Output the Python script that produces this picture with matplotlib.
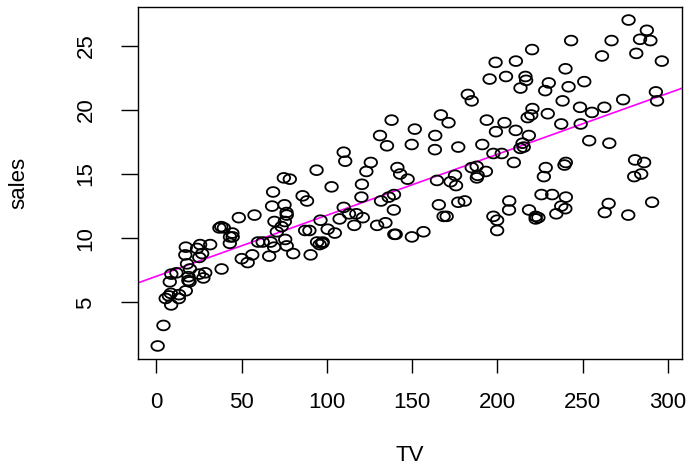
import numpy as np
import matplotlib
matplotlib.use("Agg")
import matplotlib.pyplot as plt
from matplotlib.path import Path

# Advertising data: TV budget vs sales
tv = [230.1, 44.5, 17.2, 151.5, 180.8, 8.7, 57.5, 120.2, 8.6, 199.8,
      66.1, 214.7, 23.8, 97.5, 204.1, 195.4, 67.8, 281.4, 69.2, 147.3,
      218.4, 237.4, 13.2, 228.3, 62.3, 262.9, 142.9, 240.1, 248.8, 70.6,
      292.9, 112.9, 97.2, 265.6, 95.7, 290.7, 266.9, 74.7, 43.1, 228.0,
      202.5, 177.0, 293.6, 206.9, 25.1, 175.1, 89.7, 239.9, 227.2, 66.9,
      199.8, 100.4, 216.4, 182.6, 262.7, 198.9, 7.3, 136.2, 210.8, 210.7,
      53.5, 261.3, 239.3, 102.7, 131.1, 69.0, 31.5, 139.3, 237.4, 216.8,
      199.1, 109.8, 26.8, 129.4, 213.4, 16.9, 27.5, 120.5, 5.4, 116.0,
      76.4, 239.8, 75.3, 68.4, 213.5, 193.2, 76.3, 110.7, 88.3, 109.8,
      134.3, 28.6, 217.7, 250.9, 107.4, 163.3, 197.6, 184.9, 289.7, 135.2,
      222.4, 296.4, 280.2, 187.9, 238.2, 137.9, 25.0, 90.4, 13.1, 255.4,
      225.8, 241.7, 175.7, 209.6, 78.2, 75.1, 139.2, 76.4, 125.7, 19.4,
      141.3, 18.8, 224.0, 123.1, 229.5, 87.2, 7.8, 80.2, 220.3, 59.6,
      0.7, 265.2, 8.4, 219.8, 36.9, 48.3, 25.6, 273.7, 43.0, 184.9,
      73.4, 193.7, 220.5, 104.6, 96.2, 140.3, 240.1, 243.2, 38.0, 44.7,
      280.7, 121.0, 197.6, 171.3, 187.8, 4.1, 93.9, 149.8, 11.7, 131.7,
      172.5, 85.7, 188.4, 163.5, 117.2, 234.5, 17.9, 206.8, 215.4, 284.3,
      50.0, 164.5, 19.6, 168.4, 222.4, 276.9, 248.4, 170.2, 276.7, 165.6,
      156.6, 218.5, 56.2, 287.6, 253.8, 205.0, 139.5, 191.1, 286.0, 18.7,
      39.5, 75.5, 17.2, 166.8, 149.7, 38.2, 94.2, 177.0, 283.6, 232.1]

sales = [22.1, 10.4, 9.3, 18.5, 12.9, 7.2, 11.8, 13.2, 4.8, 10.6,
         8.6, 17.4, 9.2, 9.7, 19.0, 22.4, 12.5, 24.4, 11.3, 14.6,
         18.0, 12.5, 5.6, 15.5, 9.7, 12.0, 15.0, 15.9, 18.9, 10.5,
         21.4, 11.9, 9.6, 17.4, 9.5, 12.8, 25.4, 14.7, 10.1, 21.5,
         16.6, 17.1, 20.7, 12.9, 8.5, 14.9, 10.6, 23.2, 14.8, 9.7,
         11.4, 10.7, 22.6, 21.2, 20.2, 23.7, 5.5, 13.2, 23.8, 18.4,
         8.1, 24.2, 15.7, 14.0, 18.0, 9.3, 9.5, 13.4, 18.9, 22.3,
         18.3, 12.4, 8.8, 11.0, 17.0, 8.7, 6.9, 14.2, 5.3, 11.0,
         11.8, 12.3, 11.3, 13.6, 21.7, 15.2, 12.0, 16.0, 12.9, 16.7,
         11.2, 7.3, 19.4, 22.2, 11.5, 16.9, 11.7, 15.5, 25.4, 17.2,
         11.7, 23.8, 14.8, 14.7, 20.7, 19.2, 7.2, 8.7, 5.3, 19.8,
         13.4, 21.8, 14.1, 15.9, 14.6, 12.6, 12.2, 9.4, 15.9, 6.6,
         15.5, 7.0, 11.6, 15.2, 19.7, 10.6, 6.6, 8.8, 24.7, 9.7,
         1.6, 12.7, 5.7, 19.6, 10.8, 11.6, 9.5, 20.8, 9.6, 20.7,
         10.9, 19.2, 20.1, 10.4, 11.4, 10.3, 13.2, 25.4, 10.9, 10.1,
         16.1, 11.6, 16.6, 19.0, 15.6, 3.2, 15.3, 10.1, 7.3, 12.9,
         14.4, 13.3, 14.9, 18.0, 11.9, 11.9, 8.0, 12.2, 17.1, 15.0,
         8.4, 14.5, 7.6, 11.7, 11.5, 27.0, 20.2, 11.7, 11.8, 12.6,
         10.5, 12.2, 8.7, 26.2, 17.6, 22.6, 10.3, 17.3, 15.9, 6.7,
         10.8, 9.9, 5.9, 19.6, 17.3, 7.6, 9.7, 12.8, 25.5, 13.4]

if len(tv) != len(sales):
    raise ValueError(f"length mismatch: {len(tv)} vs {len(sales)}")

x_ticks = [0, 50, 100, 150, 200, 250, 300]
y_ticks = [5, 10, 15, 20, 25]

x = np.array(tv)
y = np.array(sales)
slope, intercept = np.polyfit(x, y, 1)

plt.rcParams["font.family"] = ["Liberation Sans", "DejaVu Sans"]

W, H = 693, 465
fig = plt.figure(figsize=(W / 100, H / 100), dpi=100)
ax = fig.add_axes([137.5 / W, (H - 359) / H, (682 - 137.5) / W, (359 - 7) / H])

# slightly flattened circle, like the stretched R output
t = np.linspace(0, 2 * np.pi, 60)
ellipse = Path(np.column_stack([np.cos(t), 0.78 * np.sin(t)]), closed=True)
ax.scatter(x, y, marker=ellipse, s=81, facecolors="none", edgecolors="black", linewidths=1.3, zorder=3)

# R-style 4% axis extension
dx = (x.max() - x.min()) * 0.04
dy = (y.max() - y.min()) * 0.04
ax.set_xlim(x.min() - dx, x.max() + dx)
ax.set_ylim(y.min() - dy, y.max() + dy)

xs = np.array(ax.get_xlim())
ax.plot(xs, intercept + slope * xs, color="magenta", linewidth=1.2, zorder=2)
ax.set_xlim(xs)

ax.set_xticks(x_ticks)
ax.set_yticks(y_ticks)
ax.set_yticklabels([str(v) for v in y_ticks], rotation=90, va="center")
ax.tick_params(axis="x", length=9.8, width=1.0, pad=14, labelsize=16)
ax.tick_params(axis="y", length=12.6, width=1.0, pad=17, labelsize=16)
for s in ax.spines.values():
    s.set_linewidth(1.0)

ax.set_xlabel("TV", fontsize=16)
ax.set_ylabel("sales", fontsize=16)
ax.xaxis.set_label_coords(0.5, -(455 - 359) / (359 - 7), transform=ax.transAxes)
ax.xaxis.label.set_va("center")
ax.yaxis.set_label_coords(-(137.5 - 18.5) / (682 - 137.5), 0.5, transform=ax.transAxes)
ax.yaxis.label.set_va("center")

fig.savefig("out.png", dpi=100)
